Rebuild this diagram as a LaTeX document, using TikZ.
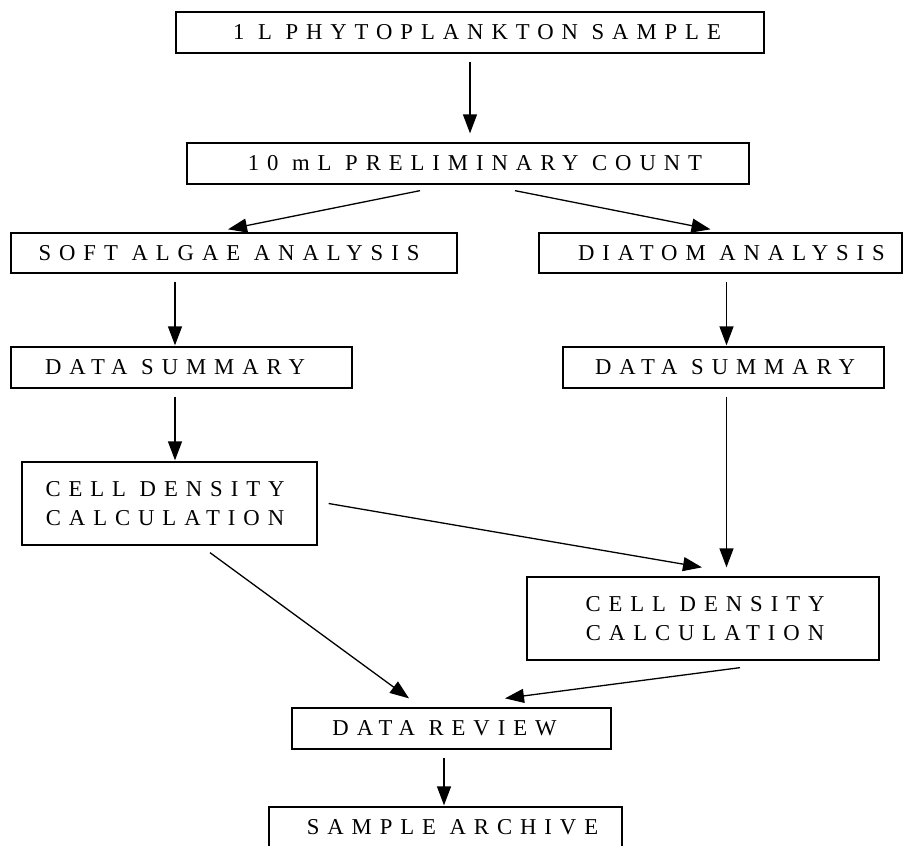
\documentclass[tikz,border=0pt]{standalone}
\usepackage{fontspec}
\setmainfont{Liberation Serif}[LetterSpace=35]
\usetikzlibrary{arrows.meta}
\newcommand{\rsh}[1]{\hspace*{#1}}
\begin{document}
\begin{tikzpicture}[x=1pt,y=-1pt,
  box/.style={draw, line width=1.3pt, inner sep=0pt, align=center,
    font=\fontsize{22.7}{29}\selectfont},
  arr/.style={line width=1.3pt, -{Triangle[length=19pt,width=14pt]}}]
\useasboundingbox (0,0) rectangle (905,846);
\node[box, minimum width=588pt, minimum height=41pt] (s1) at (470,32.5) {\rsh{14pt}1 L PHYTOPLANKTON SAMPLE};
\node[box, minimum width=562pt, minimum height=41pt] (s2) at (468,163.5) {\rsh{14pt}10 mL PRELIMINARY COUNT};
\node[box, minimum width=446pt, minimum height=40pt] (soft) at (234,253) {SOFT ALGAE ANALYSIS\rsh{10pt}};
\node[box, minimum width=363pt, minimum height=40pt] (diat) at (720.5,253) {\rsh{22pt}DIATOM ANALYSIS};
\node[box, minimum width=341pt, minimum height=41pt] (dsl) at (181.5,367.5) {DATA SUMMARY\rsh{13pt}};
\node[box, minimum width=321pt, minimum height=41pt] (dsr) at (723.5,367.5) {\rsh{3pt}DATA SUMMARY};
\node[box, minimum width=295pt, minimum height=83pt] (cdl) at (169.5,503.5) {CELL DENSITY\rsh{9pt}\\CALCULATION\rsh{9pt}};
\node[box, minimum width=352pt, minimum height=83pt] (cdr) at (703,618.5) {\rsh{4pt}CELL DENSITY\\\rsh{4pt}CALCULATION};
\node[box, minimum width=319pt, minimum height=41pt] (dr) at (451.5,728.5) {DATA REVIEW\rsh{14pt}};
\node[box, minimum width=353pt, minimum height=41pt] (sa) at (445.5,827.5) {\rsh{14pt}SAMPLE ARCHIVE};

\draw[arr] ([yshift=-8pt]s1.south) -- ([xshift=2pt,yshift=9pt]s2.north);
\draw[arr] ([xshift=-48pt,yshift=-6pt]s2.south) -- ([xshift=-6pt,yshift=3pt]soft.north);
\draw[arr] ([xshift=47pt,yshift=-6pt]s2.south) -- ([xshift=-10pt,yshift=3pt]diat.north);
\draw[arr] ([xshift=-59pt,yshift=-8pt]soft.south) -- ([xshift=-6.5pt,yshift=1pt]dsl.north);
\draw[arr] ([xshift=6pt,yshift=-8pt]diat.south) -- ([xshift=3pt,yshift=1pt]dsr.north);
\draw[arr] ([xshift=-6.5pt,yshift=-8pt]dsl.south) -- ([xshift=5.5pt,yshift=1pt]cdl.north);
\draw[arr] ([xshift=3pt,yshift=-8pt]dsr.south) -- ([xshift=23.5pt,yshift=9pt]cdr.north);
\draw[arr] ([xshift=11pt]cdl.east) -- ([xshift=-1pt,yshift=9pt]cdr.north);
\draw[arr] ([xshift=40.5pt,yshift=-7pt]cdl.south) -- ([xshift=-42.5pt,yshift=9pt]dr.north);
\draw[arr] ([xshift=37pt,yshift=-7pt]cdr.south) -- ([xshift=53.5pt,yshift=9pt]dr.north);
\draw[arr] ([xshift=-7.5pt,yshift=-8pt]dr.south) -- ([xshift=-1.5pt,yshift=1pt]sa.north);
\end{tikzpicture}
\end{document}
